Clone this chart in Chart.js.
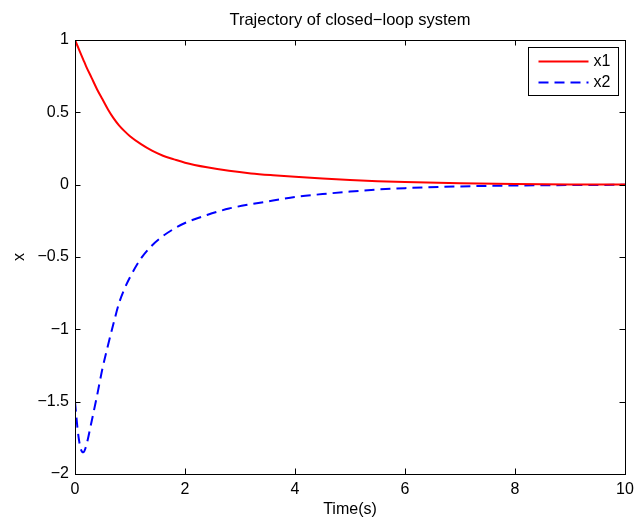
<!DOCTYPE html>
<html>
<head>
<meta charset="utf-8">
<title>Trajectory of closed-loop system</title>
<script src="https://cdn.jsdelivr.net/npm/chart.js@4.4.1/dist/chart.umd.min.js"></script>
<style>
    body { margin: 0; background: #fff; }
    #wrap { width: 635px; height: 525px; }
</style>
</head>
<body>
<div id="wrap"><canvas id="trayectoria" width="635" height="525"></canvas></div>
<script>
// ---------------- DATOS ----------------
const tiempo = [0, 0.05, 0.1, 0.15, 0.2, 0.3, 0.4, 0.5, 0.6, 0.7, 0.8, 0.9, 1.0,
    1.2, 1.4, 1.6, 1.8, 2.0, 2.4, 2.8, 3.2, 3.6, 4.0, 4.5, 5, 5.5, 6, 7, 8, 9, 10];

const serieX1 = [1.0, 0.955, 0.91, 0.865, 0.82, 0.74, 0.66, 0.59, 0.52, 0.46, 0.41, 0.37, 0.335,
    0.28, 0.235, 0.2, 0.175, 0.152, 0.12, 0.096, 0.078, 0.065, 0.054, 0.042, 0.032, 0.024, 0.018, 0.01, 0.005, 0.002, 0.001];

const serieX2 = [-1.5, -1.7, -1.82, -1.85, -1.81, -1.64, -1.46, -1.27, -1.11, -0.96, -0.82, -0.72, -0.64,
    -0.51, -0.42, -0.355, -0.305, -0.265, -0.21, -0.165, -0.135, -0.11, -0.085, -0.065, -0.048, -0.033, -0.024, -0.012, -0.006, -0.003, -0.001];

const ticksX = [0, 2, 4, 6, 8, 10];
const ticksY = [-2, -1.5, -1, -0.5, 0, 0.5, 1];

const etiquetas = ["x1", "x2"];
const titulo = "Trajectory of closed\u2212loop system";
const FUENTE = "'Liberation Sans', Arial, Helvetica, sans-serif";

function formatoMenos(v) {
    // MATLAB usa el signo menos tipografico
    return v < 0 ? "\u2212" + String(Math.abs(v)) : String(v);
}

// titulo centrado sobre el area de ejes (no sobre todo el canvas)
const tituloEjes = {
    id: "tituloEjes",
    afterDraw(chart) {
        const { ctx, chartArea: a } = chart;
        ctx.save();
        ctx.font = "16.5px " + FUENTE;
        ctx.fillStyle = "#000";
        ctx.textAlign = "center";
        ctx.textBaseline = "alphabetic";
        ctx.fillText(titulo, (a.left + a.right) / 2, a.top - 15);
        ctx.restore();
    },
};

// caja completa + marcas hacia adentro (estilo MATLAB)
const cajaEjes = {
    id: "cajaEjes",
    afterDatasetsDraw(chart) {
        const { ctx, chartArea: a, scales } = chart;
        const largo = 5.5;
        ctx.save();
        ctx.strokeStyle = "#000";
        ctx.lineWidth = 1;
        ctx.beginPath();
        for (const v of ticksX) {
            const px = Math.round(scales.x.getPixelForValue(v)) + 0.5;
            ctx.moveTo(px, a.bottom); ctx.lineTo(px, a.bottom - largo);
            ctx.moveTo(px, a.top); ctx.lineTo(px, a.top + largo);
        }
        for (const v of ticksY) {
            const py = Math.round(scales.y.getPixelForValue(v)) + 0.5;
            ctx.moveTo(a.left, py); ctx.lineTo(a.left + largo, py);
            ctx.moveTo(a.right, py); ctx.lineTo(a.right - largo, py);
        }
        ctx.stroke();
        ctx.strokeRect(Math.round(a.left) + 0.5, Math.round(a.top) + 0.5,
            Math.round(a.right - a.left), Math.round(a.bottom - a.top));
        ctx.restore();
    },
};

// leyenda con recuadro en la esquina superior derecha
const leyendaCaja = {
    id: "leyendaCaja",
    afterDraw(chart) {
        const { ctx, chartArea: a } = chart;
        const ancho = 90, alto = 48;
        const x0 = Math.round(a.right - 7 - ancho) + 0.5;
        const y0 = Math.round(a.top + 7) + 0.5;
        ctx.save();
        ctx.fillStyle = "#fff";
        ctx.fillRect(x0, y0, ancho, alto);
        ctx.strokeStyle = "#000";
        ctx.lineWidth = 1;
        ctx.strokeRect(x0, y0, ancho, alto);
        ctx.font = "16px " + FUENTE;
        ctx.textBaseline = "middle";
        chart.data.datasets.forEach((ds, i) => {
            const y = y0 + 14 + i * 21;
            ctx.strokeStyle = ds.borderColor;
            ctx.lineWidth = ds.borderWidth;
            ctx.setLineDash(ds.borderDash || []);
            ctx.beginPath();
            ctx.moveTo(x0 + 10, y);
            ctx.lineTo(x0 + 60, y);
            ctx.stroke();
            ctx.setLineDash([]);
            ctx.fillStyle = "#000";
            ctx.fillText(ds.label, x0 + 65, y);
        });
        ctx.restore();
    },
};

function crearGrafico() {
    const ctx = document.getElementById("trayectoria");

    new Chart(ctx, {
        type: "line",
        data: {
            datasets: [
                {
                    label: etiquetas[0],
                    data: tiempo.map((t, i) => ({ x: t, y: serieX1[i] })),
                    borderColor: "#ff0000",
                    borderWidth: 2,
                    pointRadius: 0,
                    cubicInterpolationMode: "monotone",
                },
                {
                    label: etiquetas[1],
                    data: tiempo.map((t, i) => ({ x: t, y: serieX2[i] })),
                    borderColor: "#0000ff",
                    borderWidth: 2,
                    borderDash: [10, 6],
                    pointRadius: 0,
                    cubicInterpolationMode: "monotone",
                },
            ],
        },
        options: {
            responsive: false,
            animation: false,
            layout: { padding: { left: 0, right: 10, top: 40, bottom: 0 } },
            plugins: {
                legend: { display: false },
                tooltip: { enabled: false },
                title: { display: false },
            },
            scales: {
                x: {
                    type: "linear",
                    min: 0,
                    max: 10,
                    afterFit: (s) => {
                        s.height = 51;
                        s.paddingLeft = 0;
                        s.paddingRight = 0;
                    },
                    afterBuildTicks: (s) => { s.ticks = ticksX.map((v) => ({ value: v })); },
                    grid: { display: false, drawTicks: false },
                    border: { display: false },
                    ticks: {
                        padding: 6,
                        color: "#000",
                        font: { family: FUENTE, size: 16 },
                        maxRotation: 0,
                        callback: (v) => formatoMenos(v),
                    },
                    title: {
                        display: true,
                        text: "Time(s)",
                        color: "#000",
                        font: { family: FUENTE, size: 16 },
                        padding: { top: 0, bottom: 6 },
                    },
                },
                y: {
                    type: "linear",
                    min: -2,
                    max: 1,
                    afterFit: (s) => {
                        s.width = 75;
                        s.paddingTop = 0;
                        s.paddingBottom = 0;
                    },
                    afterBuildTicks: (s) => { s.ticks = ticksY.map((v) => ({ value: v })); },
                    grid: { display: false, drawTicks: false },
                    border: { display: false },
                    ticks: {
                        padding: 6,
                        color: "#000",
                        font: { family: FUENTE, size: 16 },
                        callback: (v) => formatoMenos(v),
                    },
                    title: {
                        display: true,
                        text: "x",
                        color: "#000",
                        font: { family: FUENTE, size: 16 },
                        padding: { top: 10, bottom: 0 },
                    },
                },
            },
        },
        plugins: [cajaEjes, leyendaCaja, tituloEjes],
    });
}

document.addEventListener("DOMContentLoaded", crearGrafico);
</script>
</body>
</html>
